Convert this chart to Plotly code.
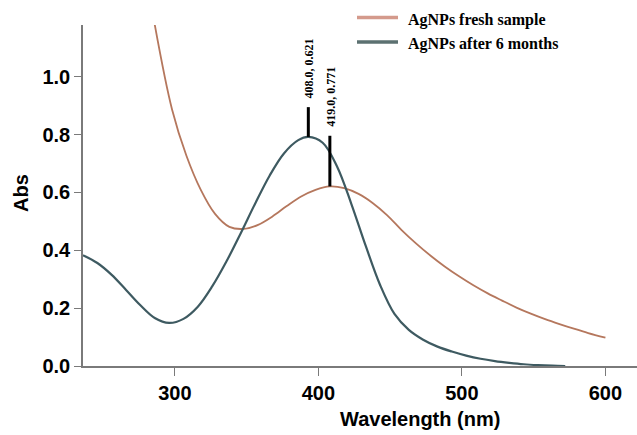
import plotly.graph_objects as go

# UV-Vis absorption spectra of silver nanoparticles (~10 nm sampling)
fresh_wl = [286, 298, 308, 318, 328, 338, 348, 358, 368, 378, 388, 398,
            408, 418, 428, 438, 448, 458, 468, 478, 488, 498, 508, 518, 528,
            538, 548, 558, 568, 578, 588, 600]
fresh_abs = [1.18, 0.888, 0.728, 0.61, 0.526, 0.481, 0.474, 0.488, 0.517,
             0.553, 0.586, 0.609, 0.621, 0.615, 0.595, 0.563, 0.521, 0.47,
             0.424, 0.382, 0.344, 0.31, 0.279, 0.251, 0.226, 0.202, 0.181,
             0.162, 0.145, 0.129, 0.114, 0.098]

aged_wl = [236, 246, 256, 266, 276, 286, 296, 306, 316, 326, 336, 346, 356,
           366, 376, 386, 393, 403, 413, 423, 433, 443, 453, 463, 473, 483,
           493, 503, 513, 523, 533, 543, 553, 563, 572]
aged_abs = [0.383, 0.356, 0.315, 0.263, 0.21, 0.166, 0.149, 0.163, 0.205,
            0.275, 0.362, 0.46, 0.562, 0.658, 0.735, 0.781, 0.792, 0.772,
            0.69, 0.56, 0.415, 0.28, 0.18, 0.125, 0.091, 0.067, 0.05, 0.036,
            0.025, 0.017, 0.011, 0.006, 0.003, 0.001, 0.0]

series_names = ["AgNPs fresh sample", "AgNPs after 6 months"]
peak_labels = ["408.0, 0.621", "419.0, 0.771"]

x_ticks = [300, 400, 500, 600]
y_ticks = [0.0, 0.2, 0.4, 0.6, 0.8, 1.0]
y_tick_text = ["0.0", "0.2", "0.4", "0.6", "0.8", "1.0"]

fresh_color = "#b5775d"
aged_color = "#3e5a61"
fresh_legend_color = "#d49a8c"
aged_legend_color = "#5c7171"
axis_color = "#7a7a7a"

fig = go.Figure()
fig.add_trace(go.Scatter(x=fresh_wl, y=fresh_abs, mode="lines",
                         name=series_names[0],
                         line=dict(color=fresh_color, width=1.8,
                                   shape="spline", smoothing=1),
                         showlegend=False))
fig.add_trace(go.Scatter(x=aged_wl, y=aged_abs, mode="lines",
                         name=series_names[1],
                         line=dict(color=aged_color, width=2.2,
                                   shape="spline", smoothing=1),
                         showlegend=False))

# Peak markers: vertical bars above each plasmon maximum with rotated labels
def band_peak(wl, ab, lo=360):
    idx = [k for k in range(len(wl)) if wl[k] >= lo]
    i = max(idx, key=lambda k: ab[k])
    return wl[i], ab[i]

aged_peak = band_peak(aged_wl, aged_abs)
fresh_peak = band_peak(fresh_wl, fresh_abs)
markers = [(aged_peak, 0.103, peak_labels[0]), (fresh_peak, 0.175, peak_labels[1])]
for (px, py), rise, text in markers:
    fig.add_shape(type="line", x0=px, x1=px, y0=py, y1=py + rise,
                  xref="x", yref="y", line=dict(color="black", width=3))
    fig.add_annotation(x=px, y=py + rise, xref="x", yref="y", text=text,
                       textangle=-90, showarrow=False, yanchor="bottom",
                       xanchor="center", yshift=7, xshift=1,
                       font=dict(family="Liberation Serif, Times New Roman",
                                 size=12, color="black", weight="bold"))

# Legend drawn in pixel-aligned paper space
legend_rows = [(series_names[0], fresh_legend_color, 17.5),
               (series_names[1], aged_legend_color, 42.0)]
W, H = 637, 435
ML, MR, MT, MB = 83, 0, 25, 69
pw, ph = W - ML - MR, H - MT - MB
def px_x(x):
    return (x - ML) / pw
def px_y(y):
    return (H - MB - y) / ph
for name, col, yy in legend_rows:
    fig.add_shape(type="line", xref="paper", yref="paper",
                  x0=px_x(357), x1=px_x(398), y0=px_y(yy), y1=px_y(yy),
                  line=dict(color=col, width=3.5))
    fig.add_annotation(xref="paper", yref="paper", x=px_x(406), y=px_y(yy + 2),
                       text=name, showarrow=False, xanchor="left",
                       yanchor="middle",
                       font=dict(family="Liberation Serif, Times New Roman",
                                 size=16, color="black", weight="bold"))

# Axis titles
fig.add_annotation(xref="paper", yref="paper", x=px_x(420), y=px_y(419),
                   text="Wavelength (nm)", showarrow=False, xanchor="center",
                   yanchor="middle",
                   font=dict(family="Liberation Sans, Arial", size=20,
                             color="black", weight="bold"))
fig.add_annotation(xref="paper", yref="paper", x=px_x(21), y=px_y(193),
                   text="Abs", showarrow=False, textangle=-90,
                   xanchor="center", yanchor="middle",
                   font=dict(family="Liberation Sans, Arial", size=20,
                             color="black", weight="bold"))

tick_font = dict(family="Liberation Sans, Arial", size=20, color="black",
                 weight="bold")
fig.update_xaxes(range=[236, 622], tickvals=x_ticks, ticks="outside",
                 ticklen=8, tickwidth=1.2, tickcolor=axis_color,
                 showline=True, linecolor=axis_color, linewidth=1.5,
                 showgrid=False, zeroline=False, tickfont=tick_font)
fig.update_yaxes(range=[0, 1.179], tickvals=y_ticks, ticktext=y_tick_text,
                 ticks="outside", ticklen=7, tickwidth=1.2,
                 tickcolor=axis_color, showline=True, linecolor=axis_color,
                 linewidth=1.5, showgrid=False, zeroline=False,
                 tickfont=tick_font)
fig.update_layout(width=W, height=H,
                  margin=dict(l=ML, r=MR, t=MT, b=MB),
                  plot_bgcolor="white", paper_bgcolor="white",
                  showlegend=False)

fig.write_html("out.html")
